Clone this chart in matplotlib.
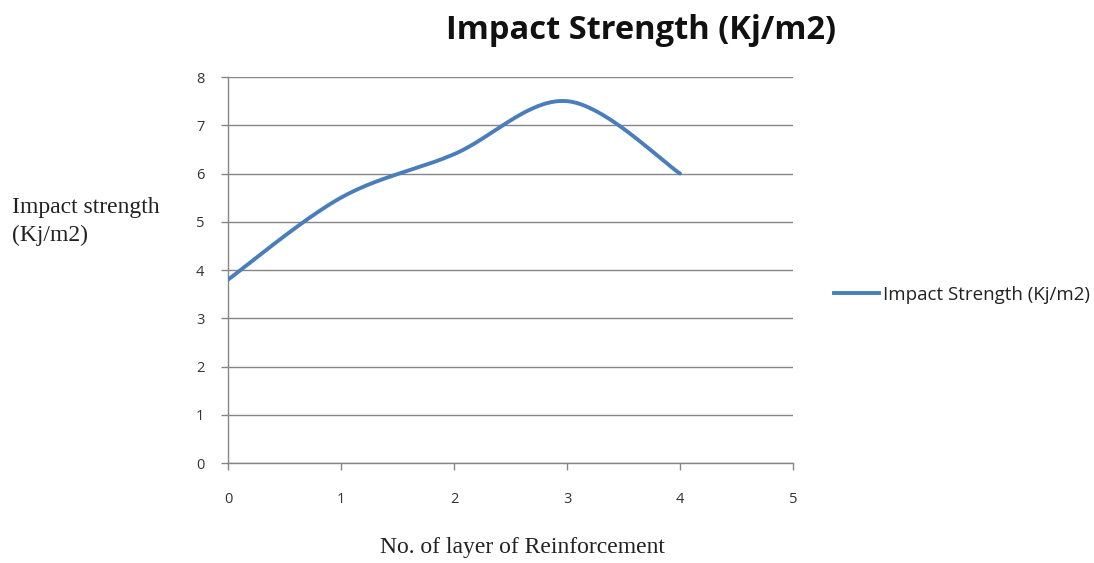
import numpy as np
import matplotlib
matplotlib.use("Agg")
import matplotlib.pyplot as plt
from matplotlib.lines import Line2D

layers = [0, 1, 2, 3, 4]
impact = [3.8, 5.5, 6.4, 7.5, 6.0]
series_name = "Impact Strength (Kj/m2)"
title = "Impact Strength (Kj/m2)"
xlabel = "No. of layer of Reinforcement"
ylabel = "Impact strength\n(Kj/m2)"
xticks = [0, 1, 2, 3, 4, 5]
yticks = [0, 1, 2, 3, 4, 5, 6, 7, 8]


def smooth_curve(xs, ys, n=40):
    # Excel-like smoothed line: cubic Bezier segments through the points
    P = np.column_stack([xs, ys]).astype(float)
    out = []
    for i in range(len(P) - 1):
        p0 = P[i - 1] if i > 0 else P[i]
        p1 = P[i]
        p2 = P[i + 1]
        p3 = P[i + 2] if i + 2 < len(P) else P[i + 1]
        c1 = p1 + (p2 - p0) / 6.0
        c2 = p2 - (p3 - p1) / 6.0
        t = np.linspace(0, 1, n)[:, None]
        seg = ((1 - t) ** 3) * p1 + 3 * ((1 - t) ** 2) * t * c1 + 3 * (1 - t) * t ** 2 * c2 + t ** 3 * p2
        out.append(seg if i == 0 else seg[1:])
    out = np.vstack(out)
    return out[:, 0], out[:, 1]


fig = plt.figure(figsize=(10.94, 5.63), dpi=100)
ax = fig.add_axes([0.2084, 0.1776, 0.5165, 0.6856])

sx, sy = smooth_curve(layers, impact)
line_color = "#4A7EBB"
ax.plot(sx, sy, color=line_color, lw=2.8, solid_capstyle="round", zorder=3)

ax.set_xlim(0, 5)
ax.set_ylim(0, 8)
ax.set_xticks(xticks)
ax.set_yticks(yticks)
grid_c = "#868686"
ax.yaxis.grid(True, color=grid_c, lw=1.0)
ax.set_axisbelow(True)
for s in ["top", "right"]:
    ax.spines[s].set_visible(False)
for s in ["left", "bottom"]:
    ax.spines[s].set_color(grid_c)
    ax.spines[s].set_linewidth(1.0)
ax.tick_params(axis="both", colors=grid_c, length=5, width=1.0, direction="out")
ax.tick_params(axis="y", pad=12)
ax.tick_params(axis="x", pad=16)
for lab in ax.get_xticklabels() + ax.get_yticklabels():
    lab.set_color("#333333")
    lab.set_fontsize(10.5)
    lab.set_family("Open Sans")

fig.text(0.586, 0.945, title, ha="center", va="center", fontsize=23.5,
         fontweight="bold", family="Open Sans", color="#111111")
fig.text(0.011, 0.607, ylabel, ha="left", va="center", fontsize=17,
         family="Liberation Serif", color="#222222", linespacing=1.45)
fig.text(0.478, 0.027, xlabel, ha="center", va="center", fontsize=17,
         family="Liberation Serif", color="#222222")

handle = Line2D([0], [0], color=line_color, lw=2.8)
leg = fig.legend([handle], [series_name], loc="center left",
                 bbox_to_anchor=(0.747, 0.476), frameon=False,
                 handlelength=2.4, handletextpad=0.2,
                 prop={"family": "Open Sans", "size": 13.5})
for t in leg.get_texts():
    t.set_color("#222222")

fig.savefig("out.png", dpi=100)
